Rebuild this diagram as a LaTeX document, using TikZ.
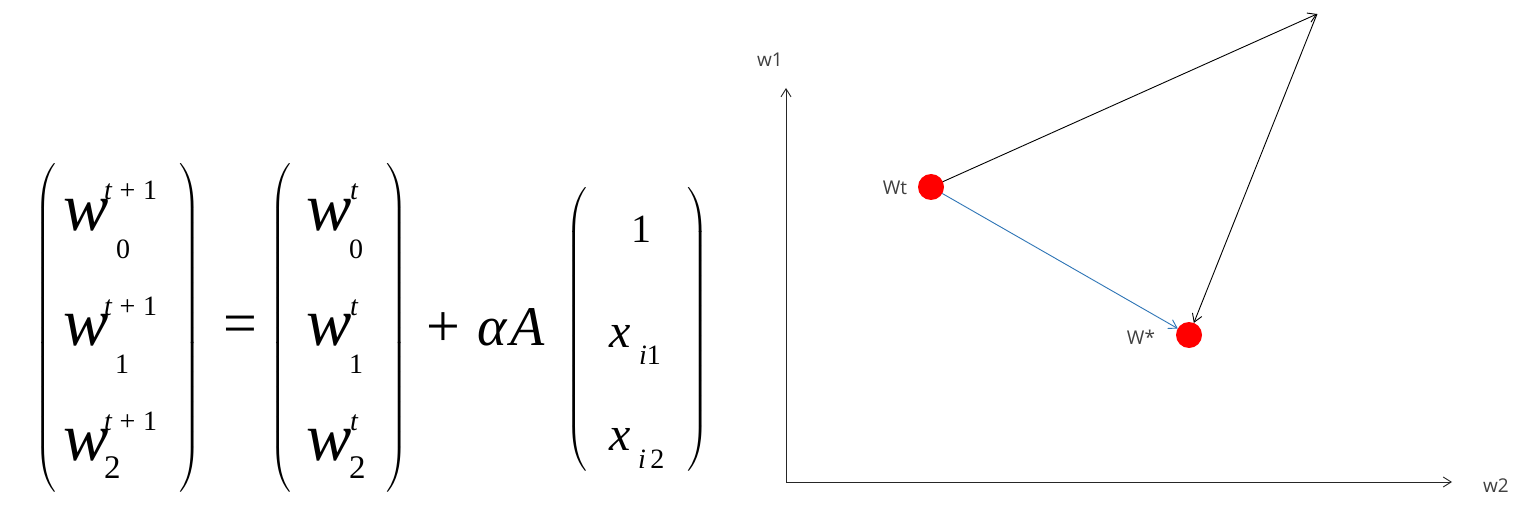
\RequirePackage{fix-cm}
\documentclass[tikz,border=0pt]{standalone}
\usepackage{fontspec,amsmath}
\usepackage{tikz}
\usetikzlibrary{arrows.meta,positioning}
\setmainfont{Liberation Serif}
\newfontfamily\labfont{Open Sans}
\newcommand{\eqparL}[1]{$\left(\vcenter{\hrule height #1 width 0pt}\right.$}
\newcommand{\eqparR}[1]{$\left.\vcenter{\hrule height #1 width 0pt}\right)$}

\begin{document}
\begin{tikzpicture}[x=1pt,y=-1pt,>=Stealth,
  every node/.style={inner sep=0pt,outer sep=0pt},
  paren/.style={font=\fontsize{30}{30}\selectfont},
  wvar/.style={anchor=base west,font=\fontsize{68}{68}\selectfont\itshape},
  scr/.style={anchor=base west,font=\fontsize{28}{28}\selectfont},
  big/.style={anchor=base west,font=\fontsize{48}{48}\selectfont},
  op/.style={font=\fontsize{60}{60}\selectfont},
  lab/.style={font=\labfont\fontsize{19}{19}\selectfont,text=black!75},
  dot/.style={circle,fill=red,minimum size=26pt},
  vec/.style={-{Straight Barb[length=8pt,width=10pt]},line width=0.9pt}]
\path[use as bounding box,fill=white] (0,0) rectangle (1528,513);
% equation
\node[paren] (pl1) at (46,328) {\eqparL{325pt}};
\node[paren] (pr1) at (190,328) {\eqparR{325pt}};
\node[paren] (pl2) at (281,328) {\eqparL{325pt}};
\node[paren] (pr2) at (397,328) {\eqparR{325pt}};
\node[paren] (pl3) at (577,329) {\eqparL{285pt}};
\node[paren] (pr3) at (698,329) {\eqparR{285pt}};
\foreach \r/\yb/\sx/\sy/\sz in {0/230/116/258/28,1/345/115/373/28,2/460/104/478/33}{
  \node[wvar] (wa\r) at (63,\yb) {w};
  \node[scr] (wasup\r) at (104,\yb-30) {\itshape t\upshape\;+\;1};
  \node[scr,font=\fontsize{\sz}{\sz}\selectfont] (wasub\r) at (\sx,\sy) {\r};
  \node[wvar] (wb\r) at (306,\yb) {w};
  \node[scr] (wbsup\r) at (350,\yb-30) {\itshape t};
  \node[scr,font=\fontsize{\sz}{\sz}\selectfont] (wbsub\r) at (349,\sy) {\r};
}
\node[op] (eq) at (240,330) {=};
\node[op] (plus) at (443,330) {+};
\node[big,font=\fontsize{56}{56}\selectfont] (alpha) at (477,345) {\itshape α};
\node[big,font=\fontsize{56}{56}\selectfont] (amp) at (510,345) {\itshape A};
\node[big,anchor=base,font=\fontsize{40}{40}\selectfont] (one) at (641,242) {1};
\node[big] (x1) at (609,347) {\itshape x};
\node[scr] (x1sub) at (639,364) {\itshape i\upshape 1};
\node[big] (x2) at (609,450) {\itshape x};
\node[scr] (x2sub) at (638,468) {\itshape i\upshape\,2};
% plane
\coordinate (o) at (786,482);
\coordinate (ytip) at (786,88);
\coordinate (xtip) at (1452,482);
\coordinate (top) at (1317,14);
\node[dot] (wt) at (931,187) {};
\node[dot] (ws) at (1189,335) {};
\node[lab] (wtl) at (895,188) {Wt};
\node[lab] (wsl) at (1141,337) {W*};
\node[lab] (w1) at (770,60) {w1};
\node[lab] (w2) at (1496,486) {w2};
\draw[vec,black!85] (o) -- (ytip);
\draw[vec,black!85] (o) -- (xtip);
\draw[vec] (wt) -- (top);
\draw[vec] (top) -- (ws);
\draw[vec,color={rgb,255:red,46;green,117;blue,182}] (wt) -- (ws);
\end{tikzpicture}
\end{document}
